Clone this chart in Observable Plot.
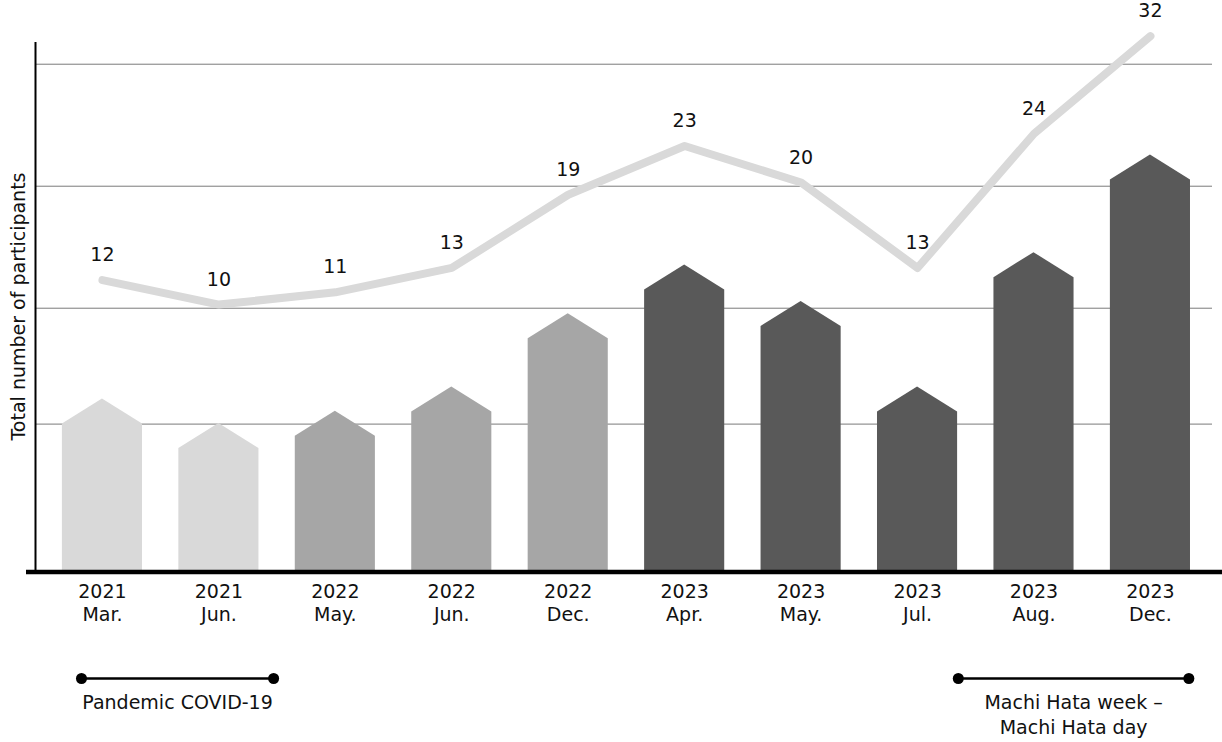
<!DOCTYPE html>
<html>
<head>
<meta charset="utf-8">
<script src="https://cdn.jsdelivr.net/npm/d3@7"></script>
<script src="https://cdn.jsdelivr.net/npm/@observablehq/plot@0.6"></script>
<style>
  html, body { margin: 0; padding: 0; background: #fff; }
  #chart svg { display: block; }
</style>
</head>
<body>
<div id="chart"></div>
<script>
// ---- data ----
const years = ["2021", "2021", "2022", "2022", "2022", "2023", "2023", "2023", "2023", "2023"];
const months = ["Mar.", "Jun.", "May.", "Jun.", "Dec.", "Apr.", "May.", "Jul.", "Aug.", "Dec."];
const participants = [12, 10, 11, 13, 19, 23, 20, 13, 24, 32];
const phases = ["2021", "2021", "2022", "2022", "2022", "2023", "2023", "2023", "2023", "2023"];
const phaseNames = ["2021", "2022", "2023"];
const phaseColors = ["#d9d9d9", "#a6a6a6", "#595959"];
const gridValues = [12, 21.5, 31.5, 41.5];
const periodNames = ["Pandemic COVID-19", "Machi Hata week –\nMachi Hata day"];
const periodStart = [-0.18, 7.35];
const periodEnd = [1.47, 9.33];

// ---- layout ----
const W = 1222;
const xDomain = [-0.575, 9.533];
const yMax = 43.28;
const lineOffset = 11.8;   // line is drawn raised above the bars
const roofHalf = 0.344;    // half bar width (in category steps)
const roofRise = 2.05;     // roof height (in value units)
const font = "'DejaVu Sans', sans-serif";
const fs = 19;

const idx = participants.map((v, i) => i);
const houses = idx.flatMap(i => [
  {i, x: i - roofHalf, y: participants[i], phase: phases[i]},
  {i, x: i, y: participants[i] + roofRise, phase: phases[i]},
  {i, x: i + roofHalf, y: participants[i], phase: phases[i]}
]);
const linePts = idx.map(i => ({x: i, y: participants[i] + lineOffset, v: participants[i]}));
const ticks = idx.map(i => ({x: i, label: years[i] + "\n" + months[i]}));

const main = Plot.plot({
  width: W,
  height: 640,
  marginLeft: 35,
  marginRight: 10,
  marginTop: 42,
  marginBottom: 70,
  style: {fontFamily: font, background: "#fff", overflow: "visible"},
  x: {domain: xDomain, axis: null},
  y: {domain: [0, yMax], axis: null},
  color: {domain: phaseNames, range: phaseColors},
  marks: [
    Plot.ruleY(gridValues, {stroke: "#7a7a7a", strokeWidth: 1}),
    Plot.areaY(houses, {x: "x", y: "y", z: "i", fill: "phase", curve: "linear"}),
    Plot.lineY(linePts, {x: "x", y: "y", stroke: "#d9d9d9", strokeWidth: 8, strokeLinejoin: "round"}),
    Plot.text(linePts, {x: "x", y: "y", text: "v", dy: -25, fontSize: fs, fill: "#111"}),
    Plot.ruleX([xDomain[0]], {y1: 0, y2: yMax, strokeWidth: 2, stroke: "#000"}),
    Plot.ruleY([0], {strokeWidth: 4.5, stroke: "#000", insetLeft: -9, insetRight: -10, dy: 1.5}),
    Plot.text(ticks, {x: "x", y: 0, text: "label", lineAnchor: "top", dy: 10, fontSize: fs, lineHeight: 1.26, fill: "#111"}),
    Plot.text(["Total number of participants"], {frameAnchor: "left", textAnchor: "middle", rotate: -90, dx: -17, fontSize: fs, fill: "#111"})
  ]
});

const periods = periodNames.map((name, k) => ({name, start: periodStart[k], end: periodEnd[k]}));
const periodEnds = periods.flatMap(p => [{x: p.start}, {x: p.end}]);

const notes = Plot.plot({
  width: W,
  height: 102,
  marginLeft: 35,
  marginRight: 10,
  marginTop: 38,
  marginBottom: 40,
  style: {fontFamily: font, background: "#fff", overflow: "visible"},
  x: {domain: xDomain, axis: null},
  y: {domain: [0, 1], axis: null},
  marks: [
    Plot.ruleY(periods, {x1: "start", x2: "end", y: 1, strokeWidth: 2.5, stroke: "#000"}),
    Plot.dot(periodEnds, {x: "x", y: 1, r: 5.5, fill: "#000"}),
    Plot.text(periods, {x: d => (d.start + d.end) / 2, y: 0, text: "name", lineAnchor: "top", dy: -11, fontSize: fs, lineHeight: 1.32, fill: "#111"})
  ]
});

const el = document.getElementById("chart");
el.appendChild(main);
el.appendChild(notes);
</script>
</body>
</html>
